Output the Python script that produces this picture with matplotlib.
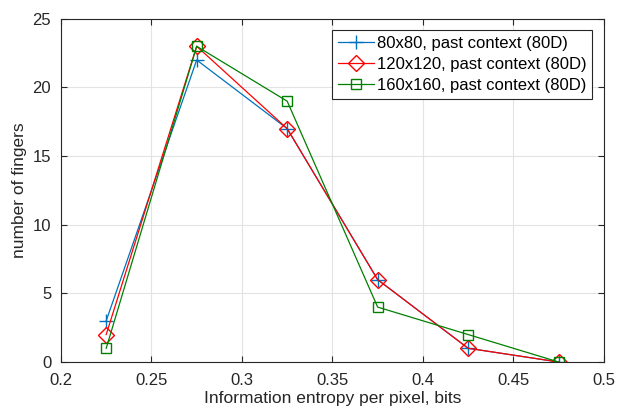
import matplotlib.pyplot as plt
import numpy as np

entropy = [0.225, 0.275, 0.325, 0.375, 0.425, 0.475]
fingers_80 = [3, 22, 17, 6, 1, 0]
fingers_120 = [2, 23, 17, 6, 1, 0]
fingers_160 = [1, 23, 19, 4, 2, 0]
labels = ['80x80, past context (80D)', '120x120, past context (80D)',
          '160x160, past context (80D)']

plt.rcParams['font.family'] = ['Liberation Sans', 'DejaVu Sans']

fig = plt.figure(figsize=(6.19, 4.18), dpi=100)
ax = fig.add_axes([0.0985, 0.134, 0.877, 0.821])

ax.plot(entropy, fingers_80, color='#0072BD', marker='+', markersize=10,
        linewidth=0.9, label=labels[0])
ax.plot(entropy, fingers_120, color='#FF0000', marker='D', markersize=8,
        markerfacecolor='none', linewidth=0.9, label=labels[1])
ax.plot(entropy, fingers_160, color='#008000', marker='s', markersize=7,
        markerfacecolor='none', linewidth=0.9, label=labels[2])

ax.set_xlim(0.2, 0.5)
ax.set_ylim(0, 25)
ax.set_xticks(np.arange(0.2, 0.501, 0.05))
ax.set_xticklabels(['0.2', '0.25', '0.3', '0.35', '0.4', '0.45', '0.5'])
ax.set_yticks([0, 5, 10, 15, 20, 25])
ax.grid(True, color='#e3e3e3', linewidth=0.8)
ax.set_axisbelow(True)
ax.tick_params(direction='in', top=True, right=True, labelsize=12,
               colors='#262626', length=4)
ax.tick_params(axis='x', pad=8)
ax.tick_params(axis='y', pad=7)
for s in ax.spines.values():
    s.set_color('#262626')
    s.set_linewidth(0.8)

ax.set_xlabel('Information entropy per pixel, bits', fontsize=12.5,
              color='#262626', labelpad=2)
ax.set_ylabel('number of fingers', fontsize=12.5, color='#262626', labelpad=4)

leg = ax.legend(loc='upper right', fontsize=12, fancybox=False,
                edgecolor='#262626', framealpha=1, handlelength=2.2,
                handletextpad=0.15, borderaxespad=0.7, borderpad=0.35,
                labelspacing=0.35)
leg.get_frame().set_linewidth(0.8)

fig.savefig('out.png', dpi=100)
